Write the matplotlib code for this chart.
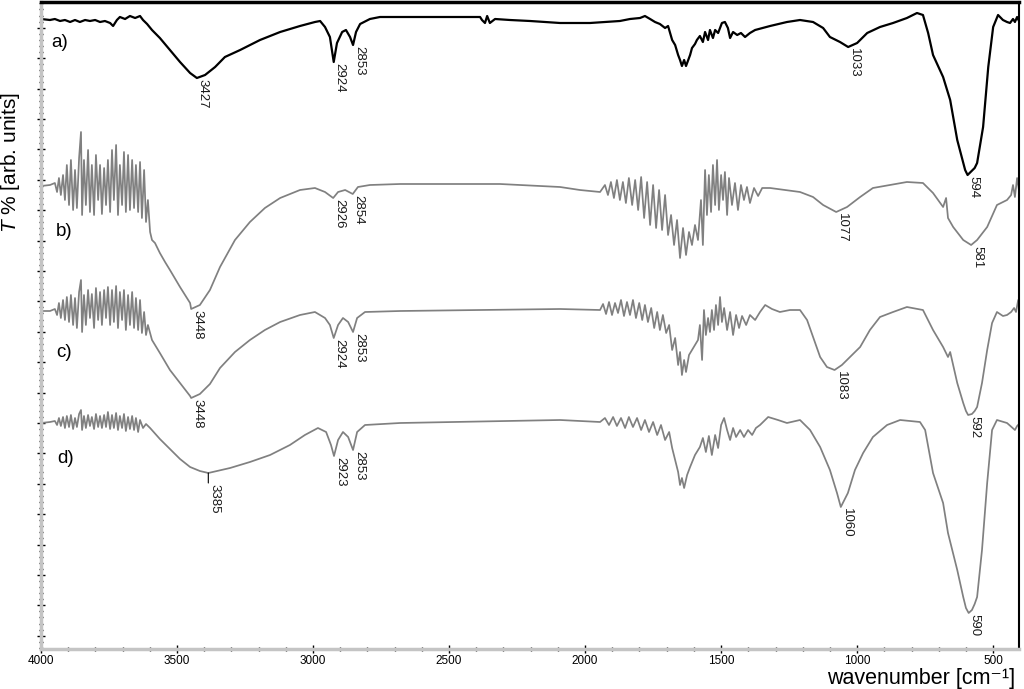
import numpy as np
import matplotlib
matplotlib.use("Agg")
import matplotlib.pyplot as plt
from matplotlib.ticker import MultipleLocator

plt.rcParams['font.family'] = ['Liberation Sans', 'DejaVu Sans']
plt.rcParams['mathtext.fontset'] = 'custom'
plt.rcParams['mathtext.rm'] = 'Liberation Sans'
plt.rcParams['mathtext.it'] = 'Liberation Sans:italic'

# spectra: (wavenumber, relative T), baseline ~ 0
a_pts = [(4000, -0.1), (3967, -0.2), (3949, -0.1), (3930, -0.3), (3912, -0.2), (3893, -0.4), (3875, -0.2),
         (3857, -0.4), (3838, -0.2), (3820, -0.3), (3801, -0.2), (3783, -0.4), (3765, -0.3), (3746, -0.5),
         (3735, -0.8), (3721, -0.2), (3710, 0.1), (3691, -0.1), (3673, 0.2), (3654, 0.0), (3636, 0.2),
         (3625, -0.2), (3610, -0.6), (3592, -1.2), (3563, -2.0), (3526, -3.2), (3489, -4.4), (3452, -5.5),
         (3427, -6.0), (3397, -5.7), (3360, -4.9), (3324, -3.9), (3268, -3.2), (3195, -2.2), (3121, -1.4),
         (3048, -0.8), (2993, -0.4), (2974, -0.3), (2956, -0.9), (2938, -1.9), (2924, -4.4), (2912, -2.5),
         (2893, -1.4), (2879, -1.2), (2864, -1.9), (2853, -2.7), (2842, -1.4), (2827, -0.6), (2791, -0.1),
         (2754, 0.1), (2497, 0.1), (2386, 0.1), (2379, -0.2), (2368, -0.5), (2360, 0.2), (2350, -0.5),
         (2331, -0.1), (2276, -0.2), (2202, -0.3), (2092, -0.5), (1982, -0.5), (1872, -0.3), (1835, -0.1),
         (1798, 0.0), (1780, 0.2), (1761, -0.1), (1743, -0.4), (1725, -0.6), (1706, -1.0), (1695, -0.8),
         (1680, -2.2), (1669, -2.7), (1658, -3.7), (1651, -4.2), (1644, -4.8), (1636, -4.2), (1629, -4.8),
         (1614, -3.7), (1607, -3.0), (1596, -2.6), (1589, -2.2), (1578, -1.8), (1567, -2.4), (1559, -1.4),
         (1548, -2.2), (1541, -1.2), (1530, -2.0), (1522, -1.2), (1511, -1.5), (1497, -0.5), (1486, -0.4),
         (1475, -1.0), (1467, -2.0), (1456, -1.4), (1441, -1.7), (1427, -1.5), (1412, -1.9), (1394, -1.5),
         (1375, -1.2), (1320, -0.8), (1258, -0.4), (1210, -0.2), (1162, -0.4), (1125, -1.0), (1100, -1.9),
         (1063, -2.4), (1033, -2.9), (1000, -2.5), (963, -1.5), (916, -0.9), (868, -0.5), (817, 0.0),
         (780, 0.5), (758, 0.3), (739, -1.5), (721, -3.7), (684, -5.9), (658, -8.2), (632, -12.2),
         (610, -14.5), (603, -15.2), (594, -15.7), (583, -15.4), (568, -15.0), (559, -14.5), (537, -10.9),
         (518, -4.9), (500, -0.9), (482, 0.3),
         (464, -0.2), (449, -0.4), (438, -0.5), (427, -0.1), (420, -0.4), (412, 0.1), (405, -0.3)]

b_pts = [(4000, -0.1), (3967, 0.0), (3949, 0.2), (3941, -0.7), (3934, 0.7), (3927, -1.0), (3919, 1.0),
         (3912, -1.5), (3905, 2.0), (3897, -2.0), (3890, 2.5), (3882, -2.5), (3875, 1.5), (3868, -2.3),
         (3860, 2.7), (3853, 5.3), (3849, -3.0), (3842, 2.5), (3835, -2.0), (3827, 3.5), (3820, -2.7),
         (3813, 2.0), (3805, -3.0), (3798, 3.0), (3790, -1.5), (3783, 2.0), (3776, -2.9), (3768, 1.7),
         (3761, -2.0), (3754, 2.5), (3746, -2.7), (3739, 3.5), (3732, -1.5), (3724, 4.0), (3717, -3.0),
         (3710, 2.0), (3702, -2.0), (3695, 3.3), (3688, -2.7), (3680, 3.0), (3673, -2.5), (3665, 2.5),
         (3658, -2.3), (3651, 2.0), (3643, -2.7), (3636, 2.3), (3629, -3.3), (3621, 1.5), (3614, -3.7),
         (3607, -1.5), (3599, -4.7), (3592, -5.5), (3581, -5.8), (3563, -6.8), (3544, -7.7), (3526, -8.5),
         (3489, -10.2), (3452, -11.8), (3448, -12.4), (3416, -12.0), (3379, -10.5), (3342, -8.2),
         (3287, -5.5), (3232, -3.7), (3177, -2.3), (3121, -1.3), (3048, -0.5), (2993, -0.3), (2956, -0.7),
         (2926, -1.3), (2908, -0.7), (2882, -0.5), (2854, -0.9), (2835, -0.2), (2791, 0.0), (2680, 0.1),
         (2313, 0.1), (2092, -0.2), (2019, -0.5), (1945, -0.7), (1927, 0.0), (1916, -1.0), (1905, 0.3),
         (1894, -1.3), (1883, 0.5), (1872, -1.5), (1861, 0.3), (1850, -1.8), (1839, 0.7), (1827, -2.0),
         (1816, 0.5), (1805, -2.5), (1794, 0.8), (1783, -3.3), (1772, 0.3), (1761, -4.0), (1750, 0.0),
         (1739, -4.3), (1728, -0.5), (1717, -4.5), (1706, -1.0), (1695, -5.0), (1684, -3.0), (1673, -6.0),
         (1662, -3.5), (1651, -7.3), (1640, -4.3), (1629, -7.0), (1618, -4.7), (1607, -6.0), (1596, -4.0),
         (1585, -5.5), (1574, -1.5), (1567, -6.0), (1559, 1.5), (1552, -3.0), (1545, 1.0), (1537, -2.7),
         (1530, 2.0), (1522, -2.0), (1515, 2.5), (1508, -2.5), (1500, 1.0), (1493, -1.5), (1486, 1.3),
         (1478, -3.0), (1471, 0.7), (1460, -2.0), (1449, 0.2), (1438, -2.5), (1427, 0.0), (1416, -1.5),
         (1405, -0.2), (1394, -1.8), (1379, -0.3), (1364, -1.1), (1349, -0.3), (1320, -0.3), (1265, -0.5),
         (1210, -0.7), (1162, -1.2), (1125, -2.0), (1077, -2.7), (1037, -2.2), (989, -1.2), (942, -0.3),
         (879, 0.0), (817, 0.3), (758, 0.2), (721, -0.8), (684, -2.2), (673, -1.3), (666, -3.3),
         (647, -4.2), (610, -5.5), (581, -6.0), (559, -5.5), (522, -4.2), (486, -2.0), (464, -1.7),
         (449, -1.5), (434, -1.0), (427, 0.0), (420, -1.2), (412, 0.7), (405, -0.5)]

c_pts = [(4000, 0.0), (3967, 0.0), (3949, 0.2), (3941, -0.4), (3934, 0.8), (3927, -0.7), (3919, 1.1),
         (3912, -0.9), (3905, 1.4), (3897, -1.1), (3890, 1.6), (3882, -1.4), (3875, 1.3), (3868, -1.7),
         (3860, 1.9), (3853, 3.1), (3849, -2.1), (3842, 1.6), (3835, -1.4), (3827, 2.1), (3820, -0.7),
         (3813, 1.7), (3805, -1.7), (3798, 2.3), (3790, -0.9), (3783, 1.9), (3776, -1.4), (3768, 2.1),
         (3761, -0.7), (3754, 2.4), (3746, -1.4), (3739, 2.1), (3732, -1.1), (3724, 2.5), (3717, -1.7),
         (3710, 1.9), (3702, -0.9), (3695, 2.1), (3688, -1.9), (3680, 1.6), (3673, -1.4), (3665, 1.9),
         (3658, -1.7), (3651, 1.3), (3643, -1.9), (3636, 1.1), (3629, -2.2), (3621, -0.1), (3614, -2.4),
         (3607, -1.4), (3592, -2.9), (3563, -4.2), (3526, -5.9), (3489, -7.2), (3452, -8.5), (3448, -8.7),
         (3416, -8.3), (3379, -7.3), (3342, -5.7), (3287, -4.1), (3232, -2.9), (3177, -1.9), (3121, -1.1),
         (3048, -0.4), (2993, -0.1), (2956, -0.7), (2938, -1.4), (2924, -2.7), (2908, -1.4), (2890, -0.7),
         (2871, -1.1), (2853, -2.1), (2838, -0.7), (2809, -0.1), (2680, 0.0), (2092, 0.2), (1945, 0.1),
         (1934, 0.7), (1923, -0.3), (1912, 0.9), (1901, -0.4), (1890, 0.8), (1879, -0.2), (1868, 1.1),
         (1857, -0.5), (1846, 0.9), (1835, -0.4), (1824, 1.1), (1813, -0.7), (1801, 0.8), (1790, -0.9),
         (1780, 0.6), (1769, -1.1), (1757, 0.3), (1746, -1.7), (1735, -0.1), (1725, -1.9), (1714, -0.4),
         (1702, -2.2), (1691, -1.4), (1680, -3.9), (1669, -2.7), (1658, -5.4), (1651, -4.1), (1644, -6.4),
         (1636, -4.9), (1629, -6.1), (1618, -4.4), (1607, -3.9), (1596, -3.4), (1585, -2.9), (1578, -1.4),
         (1570, -4.9), (1563, 0.1), (1556, -2.4), (1548, -0.7), (1541, -2.1), (1534, 0.1), (1526, -1.9),
         (1519, 0.6), (1511, -1.4), (1504, 1.4), (1497, -1.1), (1489, 0.3), (1478, -1.9), (1467, -0.1),
         (1456, -2.4), (1445, -0.4), (1434, -1.7), (1423, -0.5), (1408, -1.4), (1394, -0.4), (1375, -0.9),
         (1357, -0.1), (1338, 0.6), (1313, 0.2), (1284, -0.1), (1247, 0.1), (1210, 0.1), (1184, -0.9),
         (1162, -2.6), (1136, -4.6), (1111, -5.6), (1083, -5.9), (1056, -5.4), (1026, -4.6), (989, -3.6),
         (953, -1.9), (916, -0.6), (868, -0.1), (817, 0.4), (758, 0.1), (721, -1.9), (684, -3.6),
         (666, -4.6), (658, -4.1), (632, -7.2), (610, -9.2), (600, -10.0), (592, -10.4), (578, -10.3),
         (568, -10.0), (559, -9.6), (541, -7.2),
         (522, -3.9), (504, -1.2), (486, -0.1), (464, -0.5), (449, -0.4), (434, -0.1), (423, 0.3),
         (416, -0.1), (408, 1.1), (405, 0.3)]

d_pts = [(4000, -0.1), (3967, 0.0), (3949, 0.1), (3941, -0.3), (3934, 0.4), (3927, -0.4), (3919, 0.5),
         (3912, -0.6), (3905, 0.6), (3897, -0.5), (3890, 0.7), (3882, -0.7), (3875, 0.4), (3868, -0.5),
         (3860, 0.8), (3853, 1.2), (3849, -0.8), (3842, 0.6), (3835, -0.6), (3827, 0.7), (3820, -0.4),
         (3813, 0.5), (3805, -0.7), (3798, 0.8), (3790, -0.5), (3783, 0.6), (3776, -0.6), (3768, 0.7),
         (3761, -0.5), (3754, 1.0), (3746, -0.7), (3739, 0.7), (3732, -0.6), (3724, 0.9), (3717, -0.8),
         (3710, 0.6), (3702, -0.6), (3695, 0.8), (3688, -0.9), (3680, 0.5), (3673, -0.7), (3665, 0.6),
         (3658, -0.8), (3651, 0.4), (3643, -1.0), (3636, 0.2), (3625, -0.6), (3614, -0.2), (3599, -0.6),
         (3563, -1.7), (3526, -2.7), (3489, -3.7), (3452, -4.5), (3416, -4.9), (3385, -5.1), (3305, -4.6),
         (3232, -4.0), (3158, -3.3), (3085, -2.3), (3030, -1.3), (2982, -0.6), (2952, -1.0), (2934, -2.3),
         (2923, -3.4), (2908, -1.8), (2890, -1.0), (2871, -1.5), (2853, -2.8), (2838, -1.0), (2809, -0.3),
         (2680, -0.1), (2092, 0.2), (1945, 0.0), (1927, 0.4), (1912, -0.3), (1897, 0.5), (1883, -0.4),
         (1868, 0.4), (1853, -0.6), (1839, 0.5), (1824, -0.5), (1809, 0.4), (1794, -0.8), (1780, 0.2),
         (1765, -1.0), (1750, 0.0), (1735, -1.3), (1721, -0.3), (1706, -1.8), (1691, -1.0), (1680, -2.6),
         (1669, -3.8), (1658, -5.0), (1651, -6.3), (1644, -5.6), (1636, -6.6), (1625, -5.3), (1614, -4.5),
         (1596, -3.3), (1578, -2.5), (1567, -1.6), (1556, -3.0), (1545, -1.4), (1534, -3.3), (1522, -1.3),
         (1511, -2.6), (1500, -0.3), (1489, 0.4), (1478, -0.8), (1467, -1.8), (1456, -0.6), (1445, -1.5),
         (1430, -0.8), (1416, -1.5), (1401, -0.8), (1386, -1.3), (1372, -0.6), (1357, -0.3), (1327, 0.5),
         (1291, 0.2), (1258, -0.1), (1210, 0.2), (1173, -0.8), (1136, -2.5), (1100, -4.8), (1074, -7.1),
         (1060, -8.5), (1034, -7.1), (1008, -4.8), (978, -3.1), (942, -1.5), (890, -0.3), (842, 0.2),
         (769, 0.0), (750, -0.8), (721, -5.1), (684, -8.1), (666, -11.1), (632, -14.8), (610, -17.5),
         (600, -18.6), (590, -19.1), (578, -18.8), (568, -18.2), (559, -17.5), (541, -12.8), (522, -6.1),
         (504, -0.8), (486, 0.2), (449, -0.1), (420, -0.8), (412, -0.4), (405, -0.2)]

# vertical stacking offsets of the four traces
offsets = [63.1, 46.4, 33.8, 22.7]
names = ['a)', 'b)', 'c)', 'd)']

a_peaks = [3427, 2924, 2853, 1033, 594]
b_peaks = [3448, 2926, 2854, 1077, 581]
c_peaks = [3448, 2924, 2853, 1083, 592]
d_peaks = [3385, 2923, 2853, 1060, 590]

fig = plt.figure(figsize=(10.24, 6.89), dpi=100)
ax = fig.add_axes([41 / 1024, 40 / 689, 978 / 1024, 647 / 689])

traces = [a_pts, b_pts, c_pts, d_pts]
peaks = [a_peaks, b_peaks, c_peaks, d_peaks]
colors = ['black', '#808080', '#808080', '#808080']
widths = [1.6, 1.25, 1.25, 1.25]
name_pos = [(0.010, 0.937), (0.015, 0.646), (0.016, 0.458), (0.017, 0.295)]

for pts, off, pk_list, col, lw, name, npos in zip(traces, offsets, peaks, colors, widths, names, name_pos):
    wn, t = np.array(pts, dtype=float).T
    y = off + t
    ax.plot(wn, y, color=col, lw=lw)
    ax.text(npos[0], npos[1], name, transform=ax.transAxes, fontsize=13.5,
            ha='left', va='center')
    for pk in pk_list:
        yp = np.interp(pk, wn[::-1], y[::-1])
        drop = 0
        if pk == 3385:
            drop = 10
            ax.annotate('', xy=(pk, yp), xytext=(0, -drop), textcoords='offset pixels',
                        arrowprops=dict(arrowstyle='-', lw=0.8, color='black',
                                        shrinkA=0, shrinkB=0))
        ax.annotate(str(pk), xy=(pk, yp), xytext=(6, -1 - drop), textcoords='offset pixels',
                    rotation=270, ha='center', va='top', fontsize=9.5, color='#1a1a1a')

ax.set_xlim(4000, 405)
ax.set_ylim(0, 64.7)

ax.xaxis.set_major_locator(MultipleLocator(500))
ax.xaxis.set_minor_locator(MultipleLocator(100))
ax.yaxis.set_major_locator(MultipleLocator(3.04, offset=1.33))
ax.yaxis.set_minor_locator(MultipleLocator(0.608, offset=0.114))
ax.tick_params(axis='both', which='major', direction='inout', length=6, width=1, color='black')
ax.tick_params(axis='both', which='minor', direction='inout', length=3.5, width=1, color='black')
ax.tick_params(axis='x', labelsize=8.5, pad=1)
ax.tick_params(axis='y', labelleft=False)

for side in ['left', 'bottom']:
    ax.spines[side].set_color('#c4c4c4')
    ax.spines[side].set_linewidth(2.5)
ax.spines['top'].set_color('black')
ax.spines['top'].set_linewidth(2.5)
ax.spines['right'].set_color('black')
ax.spines['right'].set_linewidth(1.5)

fig.text(11 / 1024, 1 - 163 / 689, '$T$ % [arb. units]', fontsize=15,
         rotation=90, ha='center', va='center')
fig.text(1015 / 1024, 0, 'wavenumber [cm\u207b\u00b9]', fontsize=15.5,
         ha='right', va='bottom')

fig.savefig('out.png', dpi=100)
